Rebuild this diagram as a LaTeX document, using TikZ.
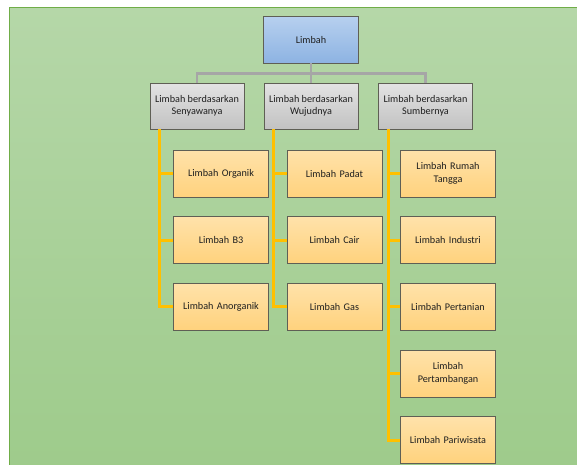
\documentclass[tikz,border=0pt]{standalone}
\usepackage{fontspec}
\setmainfont{Carlito}
\usetikzlibrary{positioning}
\definecolor{bgtop}{HTML}{B5D7A8}
\definecolor{bgbot}{HTML}{9ECB8B}
\definecolor{bgline}{HTML}{70AD47}
\definecolor{boxline}{HTML}{5F5F55}
\definecolor{lnorange}{HTML}{FFC000}
\definecolor{lngray}{HTML}{A6A6A6}
\definecolor{roottop}{HTML}{B7D0EF}
\definecolor{rootbot}{HTML}{8DB3E2}
\tikzset{
  every node/.style={font=\fontsize{10.2}{12.5}\selectfont, text=black!88},
  rootbox/.style={draw=boxline, line width=0.9pt, minimum width=95pt, minimum height=47pt,
    top color=roottop, bottom color=rootbot, inner sep=0pt},
  groupbox/.style={draw=boxline, line width=0.9pt, minimum width=94pt, minimum height=46pt,
    top color=black!11, bottom color=black!24, align=center, inner sep=0pt},
  itembox/.style={draw=boxline, line width=0.9pt, minimum width=95pt, minimum height=47pt,
    top color={rgb,255:red,255;green,226;blue,170}, bottom color={rgb,255:red,255;green,210;blue,125},
    text width=85pt, align=center, inner sep=0pt},
  grayline/.style={draw=lngray, line width=2.5pt},
  orangeline/.style={draw=lnorange, line width=3pt}
}
\begin{document}
\begin{tikzpicture}[x=1pt,y=-1pt]
\useasboundingbox (0,0) rectangle (577,464);
\fill[white] (0,0) rectangle (577,464);
\shade[top color=bgtop, bottom color=bgbot] (9,7) rectangle (580,470);
\draw[bgline, line width=1pt] (9,470) -- (9,7) -- (580,7);

% top and groups
\node[rootbox] (limbah) at (311,39.5) {Limbah};

\node[groupbox] (senyawa) at (197,106) {Limbah berdasarkan\\Senyawanya};
\node[groupbox] (wujud) at (311,106) {Limbah berdasarkan\\Wujudnya};
\node[groupbox] (sumber) at (425.5,106) {Limbah berdasarkan\\Sumbernya};

\draw[grayline] (limbah.south) -- ++(0,10) -| (senyawa.north);
\draw[grayline] (limbah.south) -- (wujud.north);
\draw[grayline] (limbah.south) -- ++(0,10) -| (sumber.north);

% senyawa
\node[itembox] (organik) at (221,173.5) {Limbah Organik};
\node[itembox] (btiga) at (221,240) {Limbah B3};
\node[itembox] (anorganik) at (221,306.5) {Limbah Anorganik};

% wujud
\node[itembox] (padat) at (334.5,173.5) {Limbah Padat};
\node[itembox] (cair) at (334.5,240) {Limbah Cair};
\node[itembox] (gas) at (334.5,306.5) {Limbah Gas};

% sumber
\node[itembox] (rumah) at (448,173.5) {Limbah Rumah\\Tangga};
\node[itembox] (industri) at (448,240) {Limbah Industri};
\node[itembox] (pertanian) at (448,306.5) {Limbah Pertanian};
\node[itembox] (tambang) at (448,373.5) {Limbah\\Pertambangan};
\node[itembox] (wisata) at (448,440) {Limbah Pariwisata};

\foreach \c in {organik,btiga,anorganik}
  \draw[orangeline] ([xshift=9.5pt]senyawa.south west) |- (\c.west);
\foreach \c in {padat,cair,gas}
  \draw[orangeline] ([xshift=9.5pt]wujud.south west) |- (\c.west);
\foreach \c in {rumah,industri,pertanian,tambang,wisata}
  \draw[orangeline] ([xshift=10pt]sumber.south west) |- (\c.west);
\end{tikzpicture}
\end{document}
